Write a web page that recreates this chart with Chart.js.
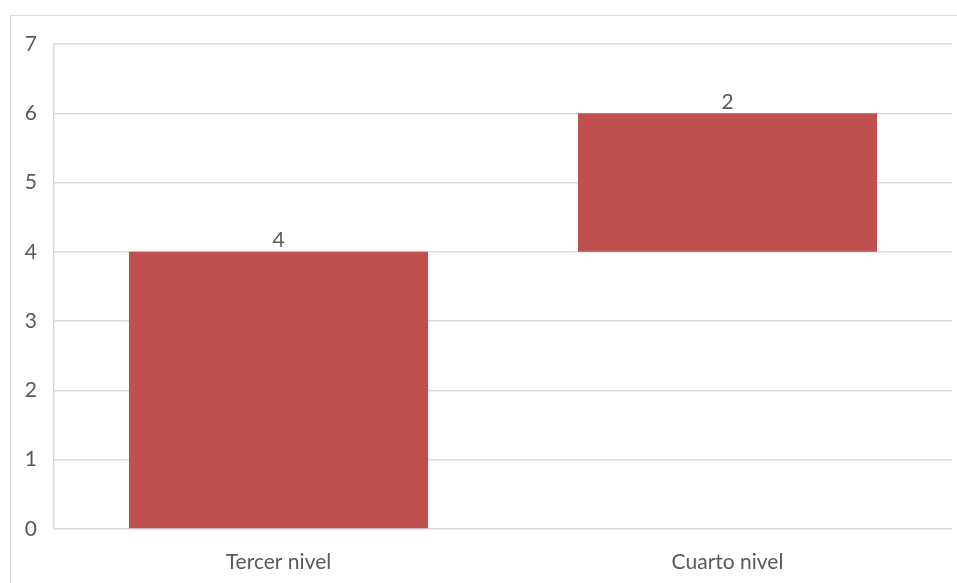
<!DOCTYPE html>
<html><head><meta charset="utf-8">
<script src="https://cdn.jsdelivr.net/npm/chart.js@4/dist/chart.umd.min.js"></script>
<style>
html,body{margin:0;padding:0;background:#fff;}
#frame{position:absolute;left:10px;top:15px;width:960px;height:600px;border:1px solid #d9d9d9;box-sizing:border-box;}
#wrap{position:absolute;left:0;top:0;width:957px;height:583px;}
</style></head>
<body>
<div id="frame"></div>
<div id="wrap"><canvas id="c" width="957" height="583"></canvas></div>
<script>
const categories = ["Tercer nivel", "Cuarto nivel"];
const startValues = [0, 4];
const endValues = [4, 6];
const deltaLabels = [4, 2];
const yTicks = [0, 1, 2, 3, 4, 5, 6, 7];

const FONT = "Lato, 'Open Sans', sans-serif";
const textColor = "#595959";

const valueLabels = {
  id: 'valueLabels',
  afterDatasetsDraw(chart) {
    const ctx = chart.ctx;
    const meta = chart.getDatasetMeta(0);
    ctx.save();
    ctx.font = "21px " + FONT;
    ctx.fillStyle = textColor;
    ctx.textAlign = 'center';
    ctx.textBaseline = 'bottom';
    meta.data.forEach((bar, i) => {
      ctx.fillText(String(deltaLabels[i]), bar.x, bar.y - 1);
    });
    ctx.restore();
  }
};

new Chart(document.getElementById('c'), {
  type: 'bar',
  data: {
    labels: categories,
    datasets: [{
      data: startValues.map((s, i) => [s, endValues[i]]),
      backgroundColor: '#C0504D',
      borderWidth: 0,
      categoryPercentage: 1,
      barPercentage: 0.666
    }]
  },
  options: {
    responsive: false,
    animation: false,
    layout: { padding: { left: 0, right: 5, top: 44, bottom: 0 } },
    plugins: { legend: { display: false }, tooltip: { enabled: false } },
    scales: {
      x: {
        grid: { display: false, drawTicks: false },
        border: { display: false },
        ticks: { font: { family: FONT, size: 21 }, color: textColor, padding: 21 },
        afterFit(s) { s.height = 54; }
      },
      y: {
        min: 0, max: 7,
        afterBuildTicks(s) { s.ticks = yTicks.map(v => ({ value: v })); },
        grid: { color: '#d9d9d9', lineWidth: 1.5, drawTicks: false },
        border: { display: true, color: '#d9d9d9', width: 1.5 },
        ticks: { font: { family: FONT, size: 21 }, color: textColor, padding: 17 },
        afterFit(s) { s.width = 54; }
      }
    }
  },
  plugins: [valueLabels]
});
</script>
</body></html>
